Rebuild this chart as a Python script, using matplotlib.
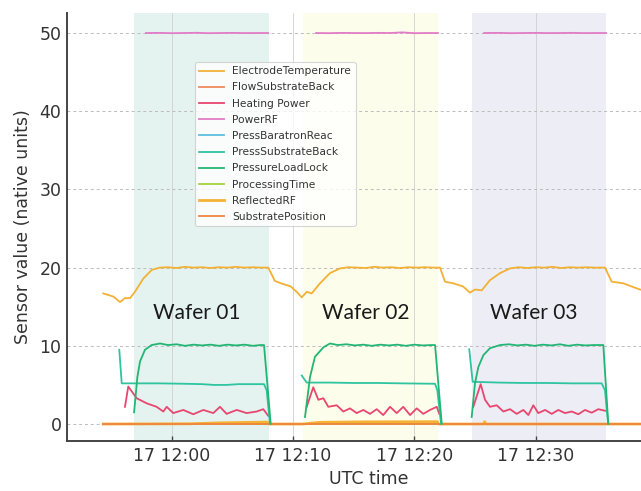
import numpy as np
import matplotlib
matplotlib.use("Agg")
import matplotlib.pyplot as plt
import matplotlib.dates as mdates

# ---------------- data (minutes after 17 12:00 UTC) ----------------
series_names = ["ElectrodeTemperature", "FlowSubstrateBack", "Heating Power", "PowerRF",
                "PressBaratronReac", "PressSubstrateBack", "PressureLoadLock",
                "ProcessingTime", "ReflectedRF", "SubstratePosition"]
series_colors = ["#f2b134", "#f08a5d", "#e8466f", "#e27cc6", "#5bc0e0",
                 "#2ec4a0", "#22b573", "#a6d13d", "#f5b335", "#f0843e"]

wafer_labels = ["Wafer 01", "Wafer 02", "Wafer 03"]
wafer_start = [-3.11, 10.82, 24.76]
wafer_end = [8.02, 21.95, 35.80]
wafer_colors = ["#e4f3f0", "#fdfdec", "#ededf5"]

et_t = [-5.64, -4.81, -4.26, -3.85, -3.44, -3.03, -2.34, -1.65, -1.0, -0.3, 0.4, 1.1, 1.8, 2.5,
        3.2, 3.9, 4.6, 5.3, 6.0, 6.7, 7.4, 7.96, 8.5, 9.0, 9.8, 10.31, 10.72, 11.13, 11.54, 12.23,
        13.05, 13.88, 14.6, 15.3, 16.0, 16.7, 17.4, 18.1, 18.8, 19.5, 20.2, 20.9, 21.6, 22.12,
        22.53, 23.19, 24.01, 24.59, 25.00, 25.56, 26.24, 27.07, 27.89, 28.6, 29.3, 30.0, 30.7,
        31.4, 32.1, 32.8, 33.5, 34.2, 34.9, 35.72, 36.27, 37.2, 38.6, 39.8, 41.2]
et_v = [16.7, 16.3, 15.6, 16.1, 16.1, 16.9, 18.6, 19.7, 20.0, 20.05, 19.95, 20.1, 20.0, 20.05,
        19.95, 20.05, 20.0, 20.1, 20.0, 20.05, 20.0, 20.0, 18.3, 18.0, 17.6, 16.9, 16.2, 16.9,
        16.7, 18.0, 19.3, 19.9, 20.05, 20.0, 19.95, 20.1, 20.0, 20.05, 19.95, 20.05, 20.0, 20.05,
        20.0, 20.0, 18.2, 18.0, 17.6, 16.8, 17.2, 17.1, 18.4, 19.3, 19.9, 20.05, 19.95, 20.05,
        20.0, 20.1, 19.95, 20.05, 20.0, 20.05, 20.0, 20.0, 18.2, 18.0, 17.2, 16.8, 16.5]

zero_t = [-5.64, 41.2]
zero_v = [0.0, 0.0]

hp_t = [-3.85, -3.58, -2.89, -2.06, -1.24, -0.69, -0.41, 0.13, 0.96, 1.78, 2.61, 3.43, 3.98,
        4.53, 5.36, 6.18, 7.01, 7.55, 7.96, 9.5,
        11.13, 11.67, 12.09, 12.50, 12.91, 13.60, 14.15, 14.70, 15.25, 15.80, 16.35, 16.90,
        17.44, 18.00, 18.55, 19.09, 19.65, 20.20, 20.74, 21.29, 21.85, 22.06, 23.5,
        24.86, 25.47, 25.83, 26.24, 26.79, 27.34, 27.89, 28.44, 28.99, 29.40, 29.81, 30.22,
        30.78, 31.33, 31.87, 32.42, 32.98, 33.52, 34.07, 34.62, 35.17, 35.72]
hp_v = [2.2, 4.8, 3.3, 2.65, 2.2, 1.6, 2.2, 1.4, 1.8, 1.25, 1.8, 1.4, 2.2, 1.3, 1.8, 1.4,
        1.6, 1.9, 1.05, np.nan,
        2.2, 4.7, 3.1, 3.3, 2.2, 2.4, 1.6, 2.0, 1.4, 1.8, 1.3, 1.9, 1.15, 2.2, 1.4, 2.2,
        1.15, 2.0, 1.3, 1.8, 2.2, 1.3, np.nan,
        2.2, 5.1, 3.1, 2.2, 2.4, 1.6, 1.9, 1.3, 1.8, 1.15, 2.4, 1.4, 1.8, 1.3, 1.8, 1.4,
        1.6, 1.25, 1.8, 1.45, 1.9, 1.7]

rf_t = [-2.12, -1.0, 0.0, 1.0, 2.0, 3.0, 4.0, 5.0, 6.0, 7.0, 7.94, 9.9,
        11.9, 13.0, 14.0, 15.0, 16.0, 17.0, 18.0, 19.0, 20.0, 21.0, 21.95, 23.8,
        25.75, 27.0, 28.0, 29.0, 30.0, 31.0, 32.0, 33.0, 34.0, 35.0, 35.8]
rf_v = [50.0, 50.02, 49.98, 50.0, 50.03, 49.98, 50.0, 50.02, 49.99, 50.0, 50.0, np.nan,
        50.0, 49.98, 50.02, 50.0, 49.99, 50.02, 50.0, 50.08, 49.98, 50.0, 50.0, np.nan,
        50.0, 50.02, 49.98, 50.0, 50.02, 49.99, 50.0, 50.02, 49.99, 50.0, 50.0]

psb_t = [-4.32, -4.12, -3.0, -1.0, 1.0, 2.5, 3.5, 4.5, 5.5, 7.61, 7.83, 8.10, 9.4,
         10.72, 11.13, 13.0, 15.0, 17.0, 19.0, 21.71, 21.90, 22.20, 23.4,
         24.53, 24.81, 27.0, 29.0, 31.0, 33.0, 35.45, 35.72, 35.97]
psb_v = [9.5, 5.2, 5.2, 5.2, 5.15, 5.1, 5.0, 5.0, 5.1, 5.1, 4.3, 0.05, np.nan,
         6.2, 5.3, 5.3, 5.25, 5.25, 5.2, 5.15, 4.3, 0.05, np.nan,
         9.55, 5.4, 5.3, 5.25, 5.25, 5.2, 5.2, 4.3, 0.05]

pll_t = [-3.10, -2.83, -2.61, -2.2, -1.65, -0.96, -0.3, 0.4, 1.1, 1.8, 2.5, 3.2, 3.9, 4.6,
         5.3, 6.0, 6.7, 7.3, 7.61, 7.88, 8.16, 9.5,
         10.99, 11.4, 11.81, 12.5, 13.05, 13.7, 14.4, 15.1, 15.8, 16.5, 17.2, 17.9, 18.6,
         19.3, 20.0, 20.7, 21.4, 21.71, 22.26, 23.5,
         24.73, 25.0, 25.28, 25.69, 26.24, 27.07, 27.8, 28.5, 29.2, 29.9, 30.6, 31.3, 32.0,
         32.7, 33.4, 34.1, 34.8, 35.58, 35.99]
pll_v = [1.5, 6.0, 8.0, 9.5, 10.1, 10.3, 10.1, 10.2, 10.0, 10.15, 10.05, 10.15, 10.0, 10.15,
         10.05, 10.15, 10.0, 10.1, 10.1, 5.2, 0.05, np.nan,
         0.9, 6.0, 8.6, 9.8, 10.3, 10.1, 10.2, 10.05, 10.15, 10.0, 10.15, 10.05, 10.15,
         10.0, 10.15, 10.05, 10.1, 10.1, 0.05, np.nan,
         0.9, 5.2, 7.3, 8.8, 9.7, 10.1, 10.2, 10.05, 10.15, 10.0, 10.15, 10.05, 10.2,
         10.0, 10.15, 10.05, 10.1, 10.1, 0.05]

rrf_t = [-5.64, 1.5, 4.0, 7.9, 8.0, 10.8, 12.2, 16.0, 21.9, 22.0, 25.7, 25.8, 25.9, 41.2]
rrf_v = [0.0, 0.03, 0.15, 0.25, 0.0, 0.0, 0.22, 0.28, 0.3, 0.0, 0.0, 0.3, 0.0, 0.0]

tick_minutes = [0, 10, 20, 30]

# ---------------- plotting ----------------
base = mdates.date2num(np.datetime64("2024-01-17T12:00"))


def tx(t):
    return base + np.asarray(t, dtype=float) / 1440.0


fig = plt.figure(figsize=(6.41, 4.91), dpi=100)
ax = fig.add_axes([67 / 641, 50 / 491, 604 / 641, 428 / 491])

for s, e, c in zip(wafer_start, wafer_end, wafer_colors):
    ax.axvspan(tx(s), tx(e), color=c, zorder=0, lw=0)
for s, e, lab in zip(wafer_start, wafer_end, wafer_labels):
    ax.text(tx((s + e) / 2 - 0.4), 14.2, lab, ha="center", va="center",
            fontsize=15, family="Lato", color="#1a1a1a", zorder=5)

data = {
    "ElectrodeTemperature": (et_t, et_v, 3),
    "FlowSubstrateBack": (zero_t, zero_v, 1),
    "Heating Power": (hp_t, hp_v, 3),
    "PowerRF": (rf_t, rf_v, 3),
    "PressBaratronReac": (zero_t, zero_v, 1),
    "PressSubstrateBack": (psb_t, psb_v, 3),
    "PressureLoadLock": (pll_t, pll_v, 3),
    "ProcessingTime": (zero_t, zero_v, 1),
    "ReflectedRF": (rrf_t, rrf_v, 2),
    "SubstratePosition": (zero_t, zero_v, 2.5),
}
for name, col in zip(series_names, series_colors):
    t, v, z = data[name]
    lw = 2.0 if name == "ReflectedRF" else 1.3
    ax.plot(tx(t), v, color=col, lw=lw, label=name, zorder=z)

ax.set_xlim(tx(-8.63), tx(41.16))
ax.set_ylim(-2.17, 52.56)
ax.set_yticks([0, 10, 20, 30, 40, 50])
ax.set_xticks(tx(tick_minutes))
ax.xaxis.set_major_formatter(mdates.DateFormatter("%d %H:%M"))

ax.grid(axis="y", ls=(0, (3, 3)), color="#bbbbbb", lw=0.7, zorder=0.5)
ax.grid(axis="x", ls="-", color="#d0d0d0", lw=0.6, zorder=0.5)
ax.set_axisbelow(True)

for sp in ["top", "right"]:
    ax.spines[sp].set_visible(False)
for sp in ["left", "bottom"]:
    ax.spines[sp].set_color("#444444")
    ax.spines[sp].set_linewidth(1.4)
ax.tick_params(axis="both", direction="in", length=3.5, width=1, colors="#444444",
               labelsize=12.5, labelcolor="#333333")
ax.tick_params(axis="y", length=0, pad=4)
ax.tick_params(axis="x", pad=4)

ax.set_xlabel("UTC time", fontsize=12.5, color="#333333", labelpad=4)
ax.set_ylabel("Sensor value (native units)", fontsize=12.5, color="#333333", labelpad=5)

leg = ax.legend(loc="upper left", bbox_to_anchor=(195 / 641, 1 - 62 / 491),
                bbox_transform=fig.transFigure, borderaxespad=0, fontsize=7.7,
                labelspacing=0.58, handlelength=2.3, frameon=True, fancybox=True,
                labelcolor="#333333")
leg.get_frame().set_edgecolor("#cccccc")
leg.get_frame().set_linewidth(0.8)
leg.set_zorder(10)

fig.savefig("out.png", dpi=100)
